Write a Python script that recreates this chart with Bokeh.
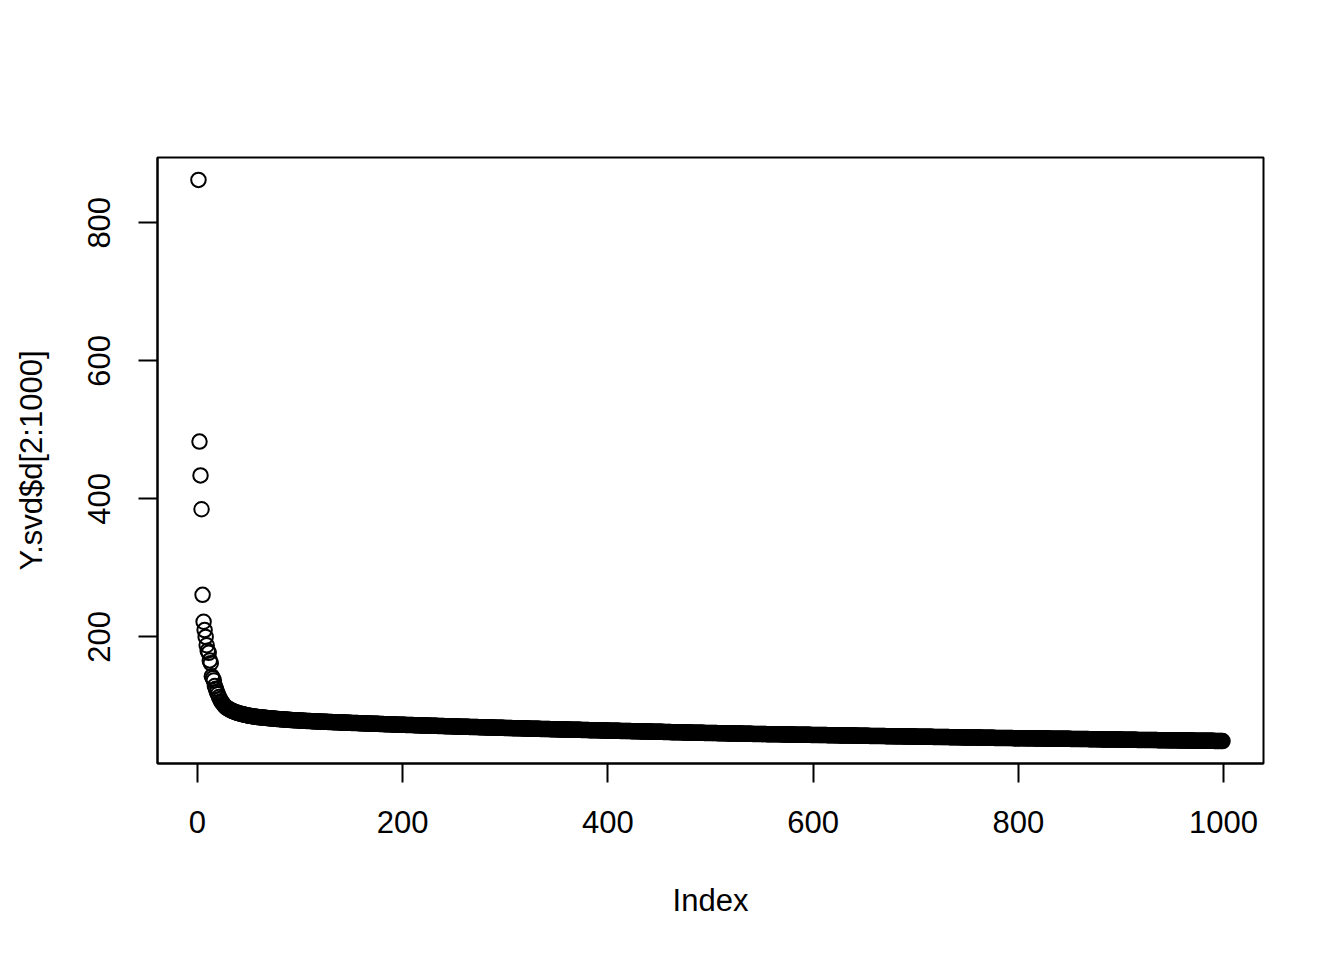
import numpy as np
from bokeh.plotting import figure
from bokeh.models import Range1d, FixedTicker
from bokeh.embed import file_html
from bokeh.resources import INLINE

x_ticks = [0, 200, 400, 600, 800, 1000]
y_ticks = [200, 400, 600, 800]
x_title = "Index"
y_title = "Y.svd$d[2:1000]"

# singular values 2..1000, first 30
sv_head = [862, 483, 434, 385, 261, 222, 210, 200, 188, 180,
           177, 166, 162, 143, 140, 137, 129, 125, 120, 117,
           113, 110, 107, 105, 103, 101, 99.5, 98, 97, 96.0]
# remaining values, index 31..999
sv_tail = [
    95.2, 94.4, 93.6, 92.9, 92.3, 91.7, 91.1, 90.6, 90.1, 89.6,
    89.2, 88.8, 88.4, 88.0, 87.6, 87.3, 87.0, 86.6, 86.3, 86.0,
    85.7, 85.5, 85.3, 85.0, 84.8, 84.6, 84.4, 84.2, 84.0, 83.8,
    83.6, 83.5, 83.3, 83.2, 83.0, 82.9, 82.7, 82.6, 82.4, 82.2,
    82.1, 82.0, 81.8, 81.7, 81.6, 81.4, 81.3, 81.2, 81.0, 80.9,
    80.8, 80.7, 80.6, 80.5, 80.4, 80.3, 80.2, 80.0, 79.9, 79.8,
    79.7, 79.6, 79.5, 79.4, 79.4, 79.3, 79.2, 79.1, 79.0, 78.9,
    78.8, 78.7, 78.7, 78.6, 78.5, 78.4, 78.3, 78.3, 78.2, 78.1,
    78.0, 78.0, 77.9, 77.8, 77.7, 77.7, 77.6, 77.5, 77.5, 77.4,
    77.3, 77.3, 77.2, 77.1, 77.1, 77.0, 76.9, 76.9, 76.8, 76.7,
    76.7, 76.6, 76.5, 76.5, 76.4, 76.4, 76.3, 76.2, 76.2, 76.1,
    76.0, 76.0, 75.9, 75.9, 75.8, 75.7, 75.7, 75.6, 75.6, 75.5,
    75.4, 75.4, 75.3, 75.3, 75.2, 75.2, 75.1, 75.1, 75.0, 74.9,
    74.9, 74.8, 74.8, 74.7, 74.7, 74.6, 74.6, 74.5, 74.4, 74.4,
    74.3, 74.3, 74.2, 74.2, 74.1, 74.1, 74.0, 73.9, 73.9, 73.8,
    73.8, 73.7, 73.7, 73.6, 73.6, 73.5, 73.4, 73.4, 73.3, 73.3,
    73.2, 73.2, 73.1, 73.1, 73.0, 73.0, 72.9, 72.9, 72.8, 72.8,
    72.7, 72.7, 72.6, 72.6, 72.5, 72.5, 72.4, 72.4, 72.3, 72.3,
    72.2, 72.2, 72.1, 72.1, 72.0, 72.0, 71.9, 71.9, 71.9, 71.8,
    71.8, 71.7, 71.7, 71.6, 71.6, 71.5, 71.5, 71.4, 71.4, 71.3,
    71.3, 71.2, 71.2, 71.1, 71.1, 71.0, 71.0, 71.0, 70.9, 70.9,
    70.8, 70.8, 70.7, 70.7, 70.6, 70.6, 70.5, 70.5, 70.4, 70.4,
    70.4, 70.3, 70.3, 70.2, 70.2, 70.1, 70.1, 70.0, 70.0, 69.9,
    69.9, 69.9, 69.8, 69.8, 69.7, 69.7, 69.6, 69.6, 69.5, 69.5,
    69.5, 69.4, 69.4, 69.3, 69.3, 69.2, 69.2, 69.1, 69.1, 69.1,
    69.0, 69.0, 68.9, 68.9, 68.8, 68.8, 68.7, 68.7, 68.7, 68.6,
    68.6, 68.5, 68.5, 68.4, 68.4, 68.4, 68.3, 68.3, 68.2, 68.2,
    68.2, 68.1, 68.1, 68.0, 68.0, 68.0, 67.9, 67.9, 67.8, 67.8,
    67.8, 67.7, 67.7, 67.6, 67.6, 67.6, 67.5, 67.5, 67.4, 67.4,
    67.4, 67.3, 67.3, 67.2, 67.2, 67.2, 67.1, 67.1, 67.0, 67.0,
    67.0, 66.9, 66.9, 66.8, 66.8, 66.8, 66.7, 66.7, 66.6, 66.6,
    66.6, 66.5, 66.5, 66.4, 66.4, 66.4, 66.3, 66.3, 66.2, 66.2,
    66.2, 66.1, 66.1, 66.1, 66.0, 66.0, 65.9, 65.9, 65.9, 65.8,
    65.8, 65.8, 65.7, 65.7, 65.6, 65.6, 65.6, 65.5, 65.5, 65.5,
    65.4, 65.4, 65.4, 65.3, 65.3, 65.2, 65.2, 65.2, 65.1, 65.1,
    65.1, 65.0, 65.0, 64.9, 64.9, 64.9, 64.8, 64.8, 64.8, 64.7,
    64.7, 64.7, 64.6, 64.6, 64.5, 64.5, 64.5, 64.4, 64.4, 64.4,
    64.3, 64.3, 64.3, 64.2, 64.2, 64.2, 64.1, 64.1, 64.0, 64.0,
    64.0, 63.9, 63.9, 63.9, 63.8, 63.8, 63.8, 63.7, 63.7, 63.7,
    63.6, 63.6, 63.5, 63.5, 63.5, 63.4, 63.4, 63.4, 63.3, 63.3,
    63.3, 63.2, 63.2, 63.1, 63.1, 63.1, 63.0, 63.0, 63.0, 62.9,
    62.9, 62.9, 62.8, 62.8, 62.7, 62.7, 62.7, 62.6, 62.6, 62.6,
    62.5, 62.5, 62.5, 62.4, 62.4, 62.4, 62.3, 62.3, 62.2, 62.2,
    62.2, 62.1, 62.1, 62.1, 62.0, 62.0, 62.0, 61.9, 61.9, 61.9,
    61.8, 61.8, 61.7, 61.7, 61.7, 61.6, 61.6, 61.6, 61.5, 61.5,
    61.5, 61.4, 61.4, 61.4, 61.3, 61.3, 61.3, 61.2, 61.2, 61.2,
    61.1, 61.1, 61.1, 61.0, 61.0, 61.0, 61.0, 60.9, 60.9, 60.9,
    60.8, 60.8, 60.8, 60.7, 60.7, 60.7, 60.6, 60.6, 60.6, 60.6,
    60.5, 60.5, 60.5, 60.4, 60.4, 60.4, 60.3, 60.3, 60.3, 60.3,
    60.2, 60.2, 60.2, 60.1, 60.1, 60.1, 60.0, 60.0, 60.0, 60.0,
    59.9, 59.9, 59.9, 59.8, 59.8, 59.8, 59.7, 59.7, 59.7, 59.7,
    59.6, 59.6, 59.6, 59.5, 59.5, 59.5, 59.5, 59.4, 59.4, 59.4,
    59.4, 59.3, 59.3, 59.3, 59.2, 59.2, 59.2, 59.2, 59.1, 59.1,
    59.1, 59.1, 59.0, 59.0, 59.0, 59.0, 58.9, 58.9, 58.9, 58.8,
    58.8, 58.8, 58.8, 58.7, 58.7, 58.7, 58.7, 58.6, 58.6, 58.6,
    58.6, 58.5, 58.5, 58.5, 58.5, 58.4, 58.4, 58.4, 58.4, 58.3,
    58.3, 58.3, 58.3, 58.2, 58.2, 58.2, 58.2, 58.1, 58.1, 58.1,
    58.1, 58.0, 58.0, 58.0, 58.0, 57.9, 57.9, 57.9, 57.9, 57.8,
    57.8, 57.8, 57.8, 57.7, 57.7, 57.7, 57.7, 57.6, 57.6, 57.6,
    57.6, 57.5, 57.5, 57.5, 57.5, 57.4, 57.4, 57.4, 57.4, 57.3,
    57.3, 57.3, 57.3, 57.2, 57.2, 57.2, 57.2, 57.1, 57.1, 57.1,
    57.1, 57.1, 57.0, 57.0, 57.0, 57.0, 56.9, 56.9, 56.9, 56.9,
    56.8, 56.8, 56.8, 56.8, 56.7, 56.7, 56.7, 56.7, 56.6, 56.6,
    56.6, 56.6, 56.5, 56.5, 56.5, 56.5, 56.4, 56.4, 56.4, 56.4,
    56.3, 56.3, 56.3, 56.3, 56.2, 56.2, 56.2, 56.2, 56.1, 56.1,
    56.1, 56.1, 56.0, 56.0, 56.0, 56.0, 56.0, 55.9, 55.9, 55.9,
    55.9, 55.8, 55.8, 55.8, 55.8, 55.7, 55.7, 55.7, 55.7, 55.7,
    55.6, 55.6, 55.6, 55.6, 55.5, 55.5, 55.5, 55.5, 55.4, 55.4,
    55.4, 55.4, 55.3, 55.3, 55.3, 55.3, 55.2, 55.2, 55.2, 55.2,
    55.1, 55.1, 55.1, 55.1, 55.0, 55.0, 55.0, 55.0, 54.9, 54.9,
    54.9, 54.9, 54.8, 54.8, 54.8, 54.8, 54.8, 54.7, 54.7, 54.7,
    54.7, 54.6, 54.6, 54.6, 54.6, 54.5, 54.5, 54.5, 54.5, 54.5,
    54.4, 54.4, 54.4, 54.4, 54.3, 54.3, 54.3, 54.3, 54.2, 54.2,
    54.2, 54.2, 54.2, 54.1, 54.1, 54.1, 54.1, 54.0, 54.0, 54.0,
    54.0, 53.9, 53.9, 53.9, 53.9, 53.9, 53.8, 53.8, 53.8, 53.8,
    53.7, 53.7, 53.7, 53.7, 53.7, 53.6, 53.6, 53.6, 53.6, 53.5,
    53.5, 53.5, 53.5, 53.5, 53.4, 53.4, 53.4, 53.4, 53.4, 53.4,
    53.3, 53.3, 53.3, 53.3, 53.3, 53.2, 53.2, 53.2, 53.2, 53.2,
    53.1, 53.1, 53.1, 53.1, 53.1, 53.0, 53.0, 53.0, 53.0, 53.0,
    52.9, 52.9, 52.9, 52.9, 52.9, 52.8, 52.8, 52.8, 52.8, 52.8,
    52.7, 52.7, 52.7, 52.7, 52.7, 52.6, 52.6, 52.6, 52.6, 52.6,
    52.5, 52.5, 52.5, 52.5, 52.5, 52.4, 52.4, 52.4, 52.4, 52.4,
    52.3, 52.3, 52.3, 52.3, 52.2, 52.2, 52.2, 52.2, 52.2, 52.1,
    52.1, 52.1, 52.1, 52.0, 52.0, 52.0, 52.0, 52.0, 51.9, 51.9,
    51.9, 51.9, 51.8, 51.8, 51.8, 51.8, 51.8, 51.7, 51.7, 51.7,
    51.7, 51.6, 51.6, 51.6, 51.6, 51.6, 51.5, 51.5, 51.5, 51.5,
    51.5, 51.4, 51.4, 51.4, 51.4, 51.4, 51.3, 51.3, 51.3, 51.3,
    51.2, 51.2, 51.2, 51.2, 51.2, 51.1, 51.1, 51.1, 51.1, 51.1,
    51.0, 51.0, 51.0, 51.0, 51.0, 50.9, 50.9, 50.9, 50.9, 50.9,
    50.8, 50.8, 50.8, 50.8, 50.8, 50.7, 50.7, 50.7, 50.7, 50.7,
    50.6, 50.6, 50.6, 50.6, 50.6, 50.5, 50.5, 50.5, 50.5, 50.5,
    50.4, 50.4, 50.4, 50.4, 50.4, 50.3, 50.3, 50.3, 50.3, 50.3,
    50.2, 50.2, 50.2, 50.2, 50.2, 50.1, 50.1, 50.1, 50.1, 50.1,
    50.0, 50.0, 50.0, 50.0, 50.0, 49.9, 49.9, 49.9, 49.9, 49.9,
    49.8, 49.8, 49.8, 49.8, 49.8, 49.7, 49.7, 49.7, 49.7, 49.7,
    49.6, 49.6, 49.6, 49.6, 49.6, 49.5, 49.5, 49.5, 49.5, 49.5,
    49.4, 49.4, 49.4, 49.4, 49.3, 49.3, 49.3, 49.3, 49.2,
]

sv = sv_head + sv_tail
idx = list(range(1, len(sv) + 1))


def padded(lo, hi, frac=0.04):
    d = (hi - lo) * frac
    return lo - d, hi + d


x0, x1 = padded(min(idx), max(idx))
y0, y1 = padded(min(sv), max(sv))

FONT = "Liberation Sans"
FS = "31px"

p = figure(width=1328, height=944, output_backend="svg", toolbar_location=None,
           x_range=Range1d(x0, x1), y_range=Range1d(y0, y1),
           min_border_left=157, min_border_right=65,
           min_border_top=157, min_border_bottom=181)

p.background_fill_color = "white"
p.border_fill_color = "white"
p.outline_line_color = "black"
p.outline_line_width = 2
p.grid.visible = False

p.scatter(idx, sv, size=14.5, fill_color=None, line_color="black", line_width=2)

for ax, ticks in ((p.xaxis, x_ticks), (p.yaxis, y_ticks)):
    ax.ticker = FixedTicker(ticks=ticks)
    ax.major_tick_out = 19
    ax.major_tick_in = 0
    ax.minor_tick_line_color = None
    ax.axis_line_width = 2
    ax.axis_line_color = "black"
    ax.major_tick_line_width = 2
    ax.major_tick_line_color = "black"
    ax.major_label_text_font = FONT
    ax.major_label_text_font_size = FS
    ax.major_label_text_color = "black"
    ax.axis_label_text_font = FONT
    ax.axis_label_text_font_size = FS
    ax.axis_label_text_font_style = "normal"
    ax.axis_label_text_color = "black"

p.xaxis.axis_label = x_title
p.yaxis.axis_label = y_title
p.xaxis.major_label_standoff = 28
p.xaxis.axis_label_standoff = 47
p.yaxis.major_label_orientation = "vertical"
p.yaxis.major_label_standoff = 28
p.yaxis.axis_label_standoff = 37

open("out.html", "w").write(file_html(p, INLINE))
